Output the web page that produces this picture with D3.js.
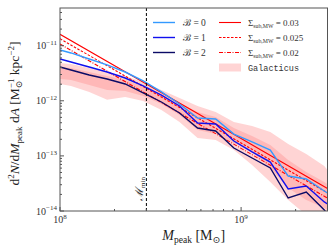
<!DOCTYPE html>
<html><head><meta charset="utf-8">
<script src="https://cdn.jsdelivr.net/npm/d3@7"></script>
<style>body{margin:0;background:#fff} svg{display:block}</style>
</head><body><svg id="c" width="336" height="252"></svg>
<script>
// ---- data ----
const mass = [1.00e8,1.15e8,1.45e8,1.82e8,2.29e8,2.88e8,3.63e8,4.57e8,5.75e8,7.24e8,9.12e8,1.15e9,1.45e9,1.82e9,2.29e9,2.88e9,3.0e9];
const beta0 = [8.36e-12,7.38e-12,5.74e-12,4.47e-12,3.33e-12,2.29e-12,1.45e-12,8.75e-13,4.88e-13,4.68e-13,2.49e-13,1.79e-13,1.28e-13,4.31e-14,3.81e-14,2.31e-14,2.12e-14];
const beta1 = [5.74e-12,5.06e-12,4.10e-12,3.33e-12,2.59e-12,1.86e-12,1.27e-12,8.05e-13,3.95e-13,3.79e-13,1.86e-13,1.18e-13,7.74e-14,2.51e-14,2.84e-14,1.46e-14,1.34e-14];
const beta2 = [4.10e-12,3.62e-12,2.94e-12,2.49e-12,2.02e-12,1.39e-12,9.51e-13,6.01e-13,3.21e-13,2.83e-13,1.39e-13,9.16e-14,6.03e-14,1.72e-14,2.21e-14,1.04e-14,8.8e-15];
const sigmaMass = [1e8,3e8,1e9,3e9];
const sigma030 = [1.61e-11,2.01e-12,2.06e-13,2.57e-14];
const sigma025 = [1.34e-11,1.68e-12,1.71e-13,2.14e-14];
const sigma020 = [1.07e-11,1.34e-12,1.37e-13,1.71e-14];
const galOuterHi = [4.85e-12,4.66e-12,3.94e-12,3.33e-12,2.82e-12,2.19e-12,1.57e-12,1.12e-12,8.05e-13,6.27e-13,4.12e-13,3.49e-13,2.72e-13,1.64e-13,1.08e-13,6.56e-14,5.55e-14];
const galOuterLo = [2.02e-12,1.86e-12,1.45e-12,1.04e-12,1.17e-12,9.9e-13,6.81e-13,4.12e-13,2.11e-13,1.95e-13,1.28e-13,6.84e-14,3.36e-14,1.58e-14,8.5e-15,6.3e-15,6.3e-15];
const galInnerHi = [4.10e-12,3.94e-12,3.33e-12,2.82e-12,2.38e-12,1.86e-12,1.33e-12,9.12e-13,6.27e-13,5.08e-13,3.21e-13,2.30e-13,1.58e-13,8.43e-14,5.1e-14,3.36e-14,3.09e-14];
const galInnerLo = [2.49e-12,2.38e-12,1.94e-12,1.57e-12,1.51e-12,1.22e-12,8.75e-13,5.52e-13,2.95e-13,2.49e-13,1.71e-13,1.18e-13,6.03e-14,2.61e-14,1.58e-14,1.13e-14,1.04e-14];
const mMin = 3e8;
const xMajor = [1e8,1e9];
const xMajorExp = ["8","9"];
const yMajor = [1e-14,1e-13,1e-12,1e-11];
const yMajorExp = ["−14","−13","−12","−11"];

// ---- chart ----
const svg = d3.select("#c");
const L=60, R=327.5, T=8, B=211;
const x = d3.scaleLog().domain([1e8,3e9]).range([L,R]);
const y = d3.scaleLog().domain([1e-14,4.83e-11]).range([B,T]);
const serif = "'Liberation Serif','DejaVu Serif',serif";

svg.append("defs").append("clipPath").attr("id","clip")
  .append("rect").attr("x",L).attr("y",T).attr("width",R-L).attr("height",B-T);
const g = svg.append("g").attr("clip-path","url(#clip)");

const area = (lo,hi)=>d3.area().x((d,i)=>x(mass[i])).y0((d,i)=>y(lo[i])).y1((d,i)=>y(hi[i]));
g.append("path").datum(mass).attr("d",area(galOuterLo,galOuterHi)).attr("fill","#ff0000").attr("fill-opacity",0.17);
g.append("path").datum(mass).attr("d",area(galInnerLo,galInnerHi)).attr("fill","#ff0000").attr("fill-opacity",0.13);

const line = (xs,ys)=>d3.line().x((d,i)=>x(xs[i])).y((d,i)=>y(ys[i]))(xs);
const series = [
  {xs:sigmaMass, ys:sigma030, c:"#ff0000", w:1.1, dash:null},
  {xs:sigmaMass, ys:sigma025, c:"#ff0000", w:1.1, dash:"2.5,1.5"},
  {xs:sigmaMass, ys:sigma020, c:"#ff0000", w:1.1, dash:"4,1.5,1,1.5"},
  {xs:mass, ys:beta0, c:"#3399ff", w:1.4, dash:null},
  {xs:mass, ys:beta1, c:"#1010ee", w:1.4, dash:null},
  {xs:mass, ys:beta2, c:"#0b0b66", w:1.4, dash:null}
];
series.forEach(s=>{
  g.append("path").attr("d",line(s.xs,s.ys)).attr("fill","none")
   .attr("stroke",s.c).attr("stroke-width",s.w).attr("stroke-dasharray",s.dash);
});

// M_min
svg.append("line").attr("x1",x(mMin)).attr("x2",x(mMin)).attr("y1",T).attr("y2",B)
  .attr("stroke","#000").attr("stroke-width",1).attr("stroke-dasharray","3,2");
const mt = svg.append("text").attr("transform",`translate(${x(mMin)-3},201) rotate(-90)`)
  .attr("font-family",serif).attr("font-size",11).attr("fill","#222");
mt.append("tspan").attr("font-style","italic").text("ℳ");
mt.append("tspan").attr("font-size",7).attr("dy",2).text("min");

// axes
const xMinor = [2e8,3e8,4e8,5e8,6e8,7e8,8e8,9e8,2e9,3e9];
const yMinor = [];
for (let e=-14;e<=-11;e++) for (let k=2;k<=9;k++){const v=k*Math.pow(10,e); if(v<=4.83e-11) yMinor.push(v);}
const ax = svg.append("g").attr("stroke","#555");
xMajor.forEach(v=>ax.append("line").attr("x1",x(v)).attr("x2",x(v)).attr("y1",B).attr("y2",B-4));
xMinor.forEach(v=>ax.append("line").attr("x1",x(v)).attr("x2",x(v)).attr("y1",B).attr("y2",B-2));
yMajor.forEach(v=>ax.append("line").attr("y1",y(v)).attr("y2",y(v)).attr("x1",L).attr("x2",L+4));
yMinor.forEach(v=>ax.append("line").attr("y1",y(v)).attr("y2",y(v)).attr("x1",L).attr("x2",L+2));
svg.append("rect").attr("x",L).attr("y",T).attr("width",R-L).attr("height",B-T)
  .attr("fill","none").attr("stroke","#555").attr("stroke-width",1);

xMajor.forEach((v,i)=>{
  const t = svg.append("text").attr("x",x(v)).attr("y",B+12).attr("text-anchor","middle")
    .attr("font-family",serif).attr("font-size",10).attr("fill","#333");
  t.append("tspan").text("10");
  t.append("tspan").attr("font-size",7).attr("dy",-4.5).text(xMajorExp[i]);
});
yMajor.forEach((v,i)=>{
  const t = svg.append("text").attr("x",L-3).attr("y",y(v)+3.5).attr("text-anchor","end")
    .attr("font-family",serif).attr("font-size",10).attr("fill","#333");
  t.append("tspan").text("10");
  t.append("tspan").attr("font-size",7).attr("dy",-4.5).text(yMajorExp[i]);
});

// axis labels
const xl = svg.append("text").attr("x",(L+R)/2).attr("y",240).attr("text-anchor","middle")
  .attr("font-family",serif).attr("font-size",14).attr("fill","#222");
xl.append("tspan").attr("font-style","italic").text("M");
xl.append("tspan").attr("font-size",9.5).attr("dy",3).text("peak");
xl.append("tspan").attr("dy",-3).text(" [M");
xl.append("tspan").attr("font-size",9.5).attr("dy",3).text("⊙");
xl.append("tspan").attr("dy",-3).text("]");

const yl = svg.append("text").attr("transform",`translate(19,${(T+B)/2+4}) rotate(-90)`)
  .attr("text-anchor","middle").attr("font-family",serif).attr("font-size",13.5).attr("fill","#222");
yl.append("tspan").text("d");
yl.append("tspan").attr("font-size",9).attr("dy",-5).text("2");
yl.append("tspan").attr("font-style","italic").attr("dy",5).text("N");
yl.append("tspan").text("/d");
yl.append("tspan").attr("font-style","italic").text("M");
yl.append("tspan").attr("font-size",9).attr("dy",3).text("peak");
yl.append("tspan").attr("dy",-3).text(" d");
yl.append("tspan").attr("font-style","italic").text("A");
yl.append("tspan").text(" [M");
const sup1 = yl.append("tspan").attr("font-size",9).attr("dy",-5).text("−1");
const sub1 = yl.append("tspan").attr("font-size",9).attr("dy",8).text("⊙");
yl.append("tspan").attr("dy",-3).text(" kpc");
yl.append("tspan").attr("font-size",9).attr("dy",-5).text("−2");
yl.append("tspan").attr("dy",5).text("]");
const w1 = sup1.node().getComputedTextLength();
const w2 = sub1.node().getComputedTextLength();
sub1.attr("dx",-w1);
if (w1 > w2) sub1.text("⊙").attr("dx",-w1);
// keep remainder after the wider of the two
yl.selectAll("tspan").filter((d,i,n)=>n[i].textContent===" kpc").attr("dx", Math.max(0,w1-w2));

// legend
const leg = svg.append("g");
const rowY = [22.5,37.5,52.5,67.5];
const col1 = [{c:"#3399ff",v:"0"},{c:"#1010ee",v:"1"},{c:"#0b0b66",v:"2"}];
col1.forEach((d,i)=>{
  leg.append("line").attr("x1",153).attr("x2",175).attr("y1",rowY[i]).attr("y2",rowY[i])
    .attr("stroke",d.c).attr("stroke-width",1.4);
  leg.append("text").attr("x",183).attr("y",rowY[i]+3.5).attr("font-family",serif)
    .attr("font-size",9.5).attr("fill","#333").text("ℬ = "+d.v);
});
const col2 = [{dash:null,v:"0.03"},{dash:"2.5,1.5",v:"0.025"},{dash:"4,1.5,1,1.5",v:"0.02"}];
col2.forEach((d,i)=>{
  leg.append("line").attr("x1",219).attr("x2",241).attr("y1",rowY[i]).attr("y2",rowY[i])
    .attr("stroke","#ff0000").attr("stroke-width",1.1).attr("stroke-dasharray",d.dash);
  const t = leg.append("text").attr("x",248).attr("y",rowY[i]+3.5).attr("font-family",serif)
    .attr("font-size",9).attr("fill","#333");
  t.append("tspan").text("Σ");
  t.append("tspan").attr("font-size",5.8).attr("dy",2).text("sub,MW");
  t.append("tspan").attr("dy",-2).text(" = "+d.v);
});
leg.append("rect").attr("x",219).attr("y",rowY[3]-4).attr("width",22).attr("height",8)
  .attr("fill","#ff0000").attr("fill-opacity",0.17);
leg.append("text").attr("x",248).attr("y",rowY[3]+3).attr("font-family","'Liberation Mono','DejaVu Sans Mono',monospace")
  .attr("font-size",8.5).attr("fill","#333").text("Galacticus");
</script></body></html>
